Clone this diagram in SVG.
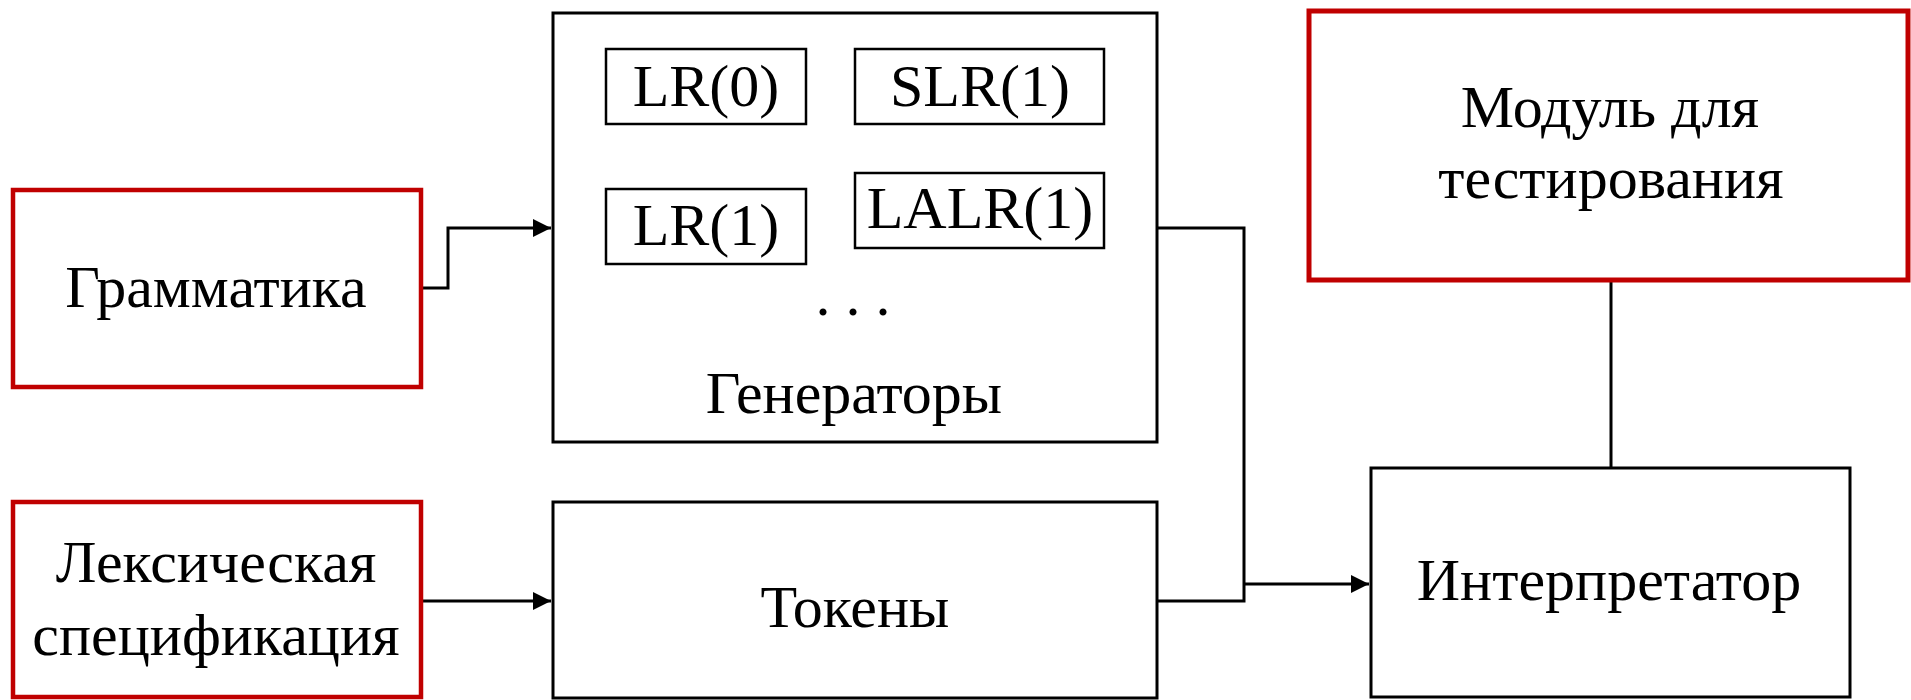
<svg xmlns="http://www.w3.org/2000/svg" width="1911" height="700" viewBox="0 0 1911 700">
<style>
.box{fill:#fff;stroke:#000;stroke-width:3}
.red{fill:#fff;stroke:#C00000;stroke-width:4.5}
.inner{fill:#fff;stroke:#000;stroke-width:2.5}
.t{font-family:"Liberation Serif","Times New Roman",serif;font-size:60px;fill:#000;text-anchor:middle}
.c{fill:none;stroke:#000;stroke-width:3}
</style>
<defs>
<marker id="arr" markerUnits="userSpaceOnUse" markerWidth="20" markerHeight="20" viewBox="0 0 20 20" refX="19" refY="10" orient="auto">
<path d="M1,1 L19,10 L1,19 Z" fill="#000"/>
</marker>
</defs>
<rect width="1911" height="700" fill="#fff"/>
<g id="connectors">
<path class="c" d="M421,288 H448 V228 H551" marker-end="url(#arr)"/>
<path class="c" d="M421,601 H551" marker-end="url(#arr)"/>
<path class="c" d="M1157,228 H1244 V601 H1157"/>
<path class="c" d="M1244,584 H1369" marker-end="url(#arr)"/>
<path class="c" d="M1611,280 V468"/>
</g>
<g id="grammar">
<rect class="red" x="13" y="190" width="408" height="197"/>
<text class="t" x="216" y="307">Грамматика</text>
</g>
<g id="lexspec">
<rect class="red" x="13" y="502" width="408" height="195"/>
<text class="t" x="216" y="582">Лексическая</text>
<text class="t" x="216" y="655">спецификация</text>
</g>
<g id="generators">
<rect class="box" x="553" y="13" width="604" height="429"/>
<text class="t" x="854" y="413">Генераторы</text>
<text class="t" x="853" y="315">. . .</text>
</g>
<g id="lr0">
<rect class="inner" x="606" y="49" width="200" height="75"/>
<text class="t" x="706" y="106">LR(0)</text>
</g>
<g id="slr1">
<rect class="inner" x="855" y="49" width="249" height="75"/>
<text class="t" x="980" y="106">SLR(1)</text>
</g>
<g id="lr1">
<rect class="inner" x="606" y="189" width="200" height="75"/>
<text class="t" x="706" y="245">LR(1)</text>
</g>
<g id="lalr1">
<rect class="inner" x="855" y="173" width="249" height="75"/>
<text class="t" x="980" y="228">LALR(1)</text>
</g>
<g id="tokens">
<rect class="box" x="553" y="502" width="604" height="196"/>
<text class="t" x="855" y="627">Токены</text>
</g>
<g id="testmodule">
<rect class="red" x="1309" y="11" width="599" height="269" style="stroke-width:5"/>
<text class="t" x="1610" y="127">Модуль для</text>
<text class="t" x="1611" y="198">тестирования</text>
</g>
<g id="interpreter">
<rect class="box" x="1371" y="468" width="479" height="229"/>
<text class="t" x="1609" y="600">Интерпретатор</text>
</g>
</svg>
